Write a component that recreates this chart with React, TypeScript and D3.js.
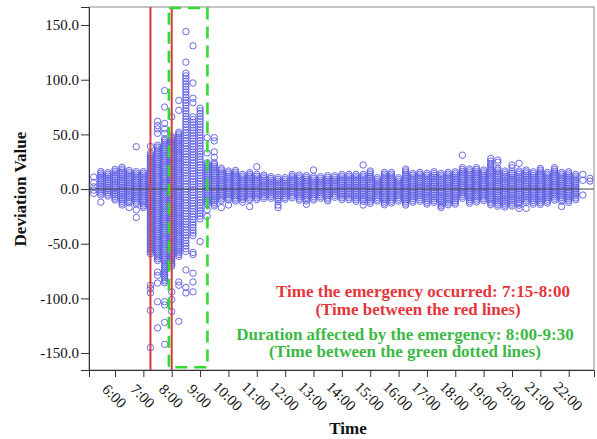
import React, { useEffect, useRef } from 'react';
import * as d3 from 'd3';

// columns of observations, one every 15 minutes (hours as decimals)
const times = [
  5.25, 5.5, 5.75, 6.0, 6.25, 6.5, 6.75, 7.0, 7.25, 7.5, 7.75, 8.0, 8.25, 8.5, 8.75, 9.0,
  9.25, 9.5, 9.75, 10.0, 10.25, 10.5, 10.75, 11.0, 11.25, 11.5, 11.75, 12.0, 12.25, 12.5,
  12.75, 13.0, 13.25, 13.5, 13.75, 14.0, 14.25, 14.5, 14.75, 15.0, 15.25, 15.5, 15.75,
  16.0, 16.25, 16.5, 16.75, 17.0, 17.25, 17.5, 17.75, 18.0, 18.25, 18.5, 18.75, 19.0,
  19.25, 19.5, 19.75, 20.0, 20.25, 20.5, 20.75, 21.0, 21.25, 21.5, 21.75, 22.0, 22.25,
  22.5, 22.75,
];

// upper / lower edge of the packed run of deviations in each column
const stackTop = [
  null, 16, 15, 18, 20, 17, 16, 16, 33, 40, 46, 48, 52, 106, 66, 74,
  24, 24, 19, 16.5, 17, 13.4, 15, 13.4, 12.8, 11.3, 10.4, 10.4, 13.4, 12.8,
  12.2, 11.3, 11.3, 12.2, 12.2, 13.4, 13.4, 13.4, 13.4, 16.5, 10.4, 15.2, 15.2,
  10.4, 18.3, 14.3, 15.2, 14.3, 15.8, 14.3, 15.2, 15.8, 19.5, 18.3, 19.5, 17.4,
  23.5, 18.9, 16.5, 15.8, 16.5, 17.4, 15.8, 18.9, 15.2, 19.5, 15.2, 15.8, 13.4,
  null, null,
];
const stackBottom = [
  null, -6, -7, -10, -15, -13, -15, -17, -60, -66, -86, -72, -63, -58, -45, -28,
  -15, -16, -12, -10, -12, -10, -11, -11, -10, -10, -11.6, -9.4, -8.5, -11,
  -11.6, -11, -10, -11, -9.1, -10, -11, -11.6, -11.6, -14.6, -11.6, -14.6, -13,
  -12.2, -15, -13, -12.2, -14, -12.2, -18.3, -14.6, -14.6, -10, -13, -12.2, -12.2,
  -16, -16, -17.7, -16, -15.2, -13, -15.2, -14.6, -13, -11.6, -12.2, -12.2, -10,
  null, null,
];

// single scattered observations
const pointTimes = [
  5.25, 5.25, 5.25, 5.25, 5.25, 5.5, 6.5, 6.75, 6.75, 6.75,
  7.25, 7.25, 7.25, 7.25, 7.25, 7.25,
  7.5, 7.5, 7.5, 7.5, 7.5, 7.5, 7.5, 7.5, 7.5,
  7.75, 7.75, 7.75, 7.75, 7.75, 7.75, 7.75, 7.75, 7.75,
  8.0, 8.0, 8.0, 8.0,
  8.25, 8.25, 8.25, 8.25, 8.25,
  8.5, 8.5, 8.5, 8.5, 8.5,
  8.75, 8.75, 8.75, 8.75, 8.75, 8.75, 8.75, 8.75, 8.75,
  9.0, 9.25, 9.25, 9.25, 9.25, 9.5, 9.5, 9.5, 9.5,
  9.75, 10.0, 10.5, 10.75, 11.0, 11.75, 11.75, 12.75, 13.0, 14.75, 14.75,
  18.25, 19.25, 19.25, 19.5, 19.5, 20.0, 20.0, 20.25, 20.25, 20.5, 21.75,
  22.5, 22.5, 22.5, 22.75, 22.75,
];
const pointValues = [
  11, 6, 2, -1, -4, -12, -17, 38.7, -19, -26,
  39, -88, -91, -95, -111, -145,
  62, 58, 55, 51, -76, -79, -86, -103, -127,
  90, 75, 60, 55, 51, -103, -106, -122, -142,
  66, -94, -101, -112,
  81, 72, -85, -88, -121,
  144, 116, -74, -90, -95,
  131, 97, 83, 79, -58, -60, -77, -85, -94,
  -48, 33, 47, -19, -25, 47, 44, 34, 29,
  -17, -14.6, -12, -16, 20.4, -14.6, -17, -14, 17.4, 22, -14.6,
  31, 28, 25.6, 26.5, 24.4, 21.9, 19.5, 23.5, -17.7, -17.7, -16,
  13.4, 8, -5.5, 9.8, 7.3,
];

const xTickHours = [6, 7, 8, 9, 10, 11, 12, 13, 14, 15, 16, 17, 18, 19, 20, 21, 22];
const xTickLabels = ['6:00', '7:00', '8:00', '9:00', '10:00', '11:00', '12:00', '13:00', '14:00',
  '15:00', '16:00', '17:00', '18:00', '19:00', '20:00', '21:00', '22:00'];
const yTicks = [-150, -100, -50, 0, 50, 100, 150];

const emergencyLines = [7.25, 8.0];
const affectedWindow = [7.9, 9.26];

const App = () => {
  const ref = useRef(null);

  useEffect(() => {
    const svg = d3.select(ref.current);
    svg.selectAll('*').remove();

    const left = 89, right = 594, top = 7, bottom = 370;
    const x = d3.scaleLinear().domain([5.083, 22.892]).range([left, right]);
    const y = d3.scaleLinear().domain([-165.5, 166.5]).range([bottom, top]);

    const serif = '"Liberation Serif", "Times New Roman", serif';
    const blue = '#5a5ae2';
    const r = 3.2;

    const marks = svg.append('g');
    // packed runs: circles overlap so closely they read as a solid bar
    const loose = new Set([8.5, 8.75, 9.0]);
    times.forEach((t, i) => {
      const hi = stackTop[i], lo = stackBottom[i];
      if (hi == null || lo == null) return;
      const step = loose.has(t) ? 2.7 : 1.8;
      const ys = d3.range(y(hi), y(lo) + 0.01, step);
      marks.selectAll(null).data(ys).enter().append('circle')
        .attr('cx', x(t)).attr('cy', d => d).attr('r', r)
        .attr('fill', 'none').attr('stroke', blue).attr('stroke-width', 0.9);
    });
    marks.selectAll(null).data(pointTimes).enter().append('circle')
      .attr('cx', d => x(d)).attr('cy', (d, i) => y(pointValues[i])).attr('r', r)
      .attr('fill', 'none').attr('stroke', blue).attr('stroke-width', 0.9);

    // zero reference line
    svg.append('line').attr('x1', left).attr('x2', right).attr('y1', y(0)).attr('y2', y(0))
      .attr('stroke', '#444').attr('stroke-width', 1);

    // frame
    svg.append('rect').attr('x', left).attr('y', top).attr('width', right - left).attr('height', bottom - top)
      .attr('fill', 'none').attr('stroke', '#8a8a8a').attr('stroke-width', 1);

    // red lines
    emergencyLines.forEach(t => {
      svg.append('line').attr('x1', x(t)).attr('x2', x(t)).attr('y1', top).attr('y2', bottom)
        .attr('stroke', '#d63a3f').attr('stroke-width', 2);
    });

    // green dashed box
    svg.append('rect')
      .attr('x', x(affectedWindow[0])).attr('y', top + 1)
      .attr('width', x(affectedWindow[1]) - x(affectedWindow[0]))
      .attr('height', y(-163) - top - 1)
      .attr('fill', 'none').attr('stroke', '#2fdc2f').attr('stroke-width', 2.6)
      .attr('stroke-dasharray', '12 7');

    // axes
    const fmt = d => d.toFixed(1); // plain hyphen minus, like the original
    const yAxis = svg.append('g').attr('transform', `translate(${left},0)`)
      .call(d3.axisLeft(y).tickValues(yTicks).tickFormat(fmt).tickSize(8).tickPadding(2));
    yAxis.select('.domain').attr('stroke', '#333');
    yAxis.selectAll('.tick line').attr('stroke', '#333');
    yAxis.selectAll('text').attr('font-family', serif).attr('font-size', 15).attr('fill', '#111');

    const xAxis = svg.append('g').attr('transform', `translate(0,${bottom})`)
      .call(d3.axisBottom(x).tickValues(xTickHours).tickFormat((d, i) => xTickLabels[i]).tickSize(7));
    xAxis.select('.domain').attr('stroke', '#333');
    xAxis.selectAll('.tick line').attr('stroke', '#333');
    xAxis.selectAll('text')
      .attr('font-family', serif).attr('font-size', 15).attr('fill', '#111')
      .attr('text-anchor', 'middle').attr('dy', '0.35em')
      .attr('transform', 'translate(-1,26) rotate(45)').attr('y', 0);

    svg.append('text').attr('transform', `translate(26,${y(0)}) rotate(-90)`)
      .attr('text-anchor', 'middle').attr('font-family', serif).attr('font-weight', 'bold')
      .attr('font-size', 17).attr('fill', '#111').text('Deviation Value');
    svg.append('text').attr('x', 348).attr('y', 434)
      .attr('text-anchor', 'middle').attr('font-family', serif).attr('font-weight', 'bold')
      .attr('font-size', 17).attr('fill', '#111').text('Time');

    const notes = [
      { text: 'Time the emergency occurred: 7:15-8:00', cx: 423, by: 297, c: '#e4363d' },
      { text: '(Time between the red lines)', cx: 418, by: 314.5, c: '#e4363d' },
      { text: 'Duration affected by the emergency: 8:00-9:30', cx: 405, by: 339.5, c: '#3cb846' },
      { text: '(Time between the green dotted lines)', cx: 405, by: 357, c: '#3cb846' },
    ];
    notes.forEach(n => {
      svg.append('text').attr('x', n.cx).attr('y', n.by).attr('text-anchor', 'middle')
        .attr('font-family', serif).attr('font-weight', 'bold').attr('font-size', 17)
        .attr('fill', n.c).text(n.text);
    });
  }, []);

  return (
    <div style={{ position: 'absolute', left: 0, top: 0, background: '#fff' }}>
      <svg ref={ref} width={597} height={439} />
    </div>
  );
};

export default App;
